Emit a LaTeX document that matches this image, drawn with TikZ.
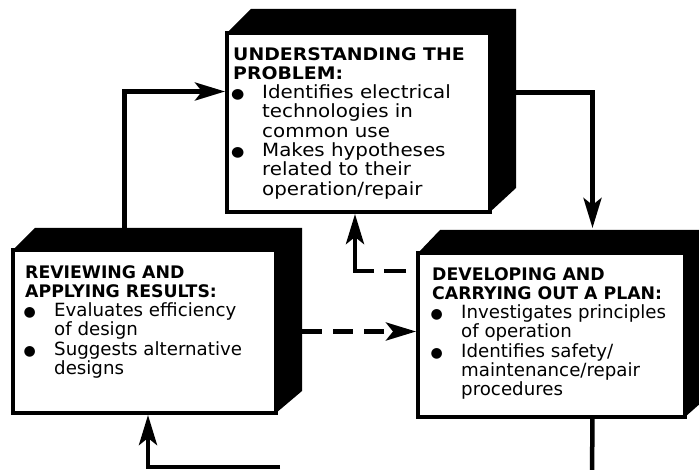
\documentclass[tikz,border=0pt]{standalone}
\usepackage{fontspec}
\setmainfont{DejaVu Sans}
\usetikzlibrary{arrows.meta}
\newcommand{\hd}[1]{{\fontsize{17.3}{19.3}\selectfont\bfseries #1}}
\newcommand{\bul}{\makebox[29pt][l]{\hspace{4.5pt}\makebox[0pt]{\fontsize{14}{19.3}\selectfont ●}}}
\newcommand{\ind}{\hspace*{29pt}}
\tikzset{
  panel/.style={draw, line width=4pt, fill=white, outer sep=0pt, inner sep=0pt, anchor=north west},
  blurb/.style={align=left, inner sep=0pt, anchor=north west, font=\fontsize{18.2}{19.3}\selectfont},
  wideblurb/.style={blurb, font=\fontsize{18.2}{19.3}\selectfont\addfontfeature{FakeStretch=1.09}},
  link/.style={line width=4.5pt, shorten >=2pt, -{Stealth[length=30pt,width=18pt,inset=7pt]}},
  dashlink/.style={link, dash pattern=on 20pt off 11pt}
}
\begin{document}
\begin{tikzpicture}[x=1pt, y=-1pt]
		\useasboundingbox (0,0) rectangle (699,470);
		% the three boxes
		\node[panel, minimum width=263pt, minimum height=179pt] (under) at (227,33) {};
		\fill (under.north west) -- ++(24,-24) -- ([shift={(26pt,24pt)}]under.north east) -- ([shift={(26pt,24pt)}]under.south east) -- (under.south east) -- (under.north east) -- cycle;
		\node[panel, minimum width=263pt, minimum height=163pt] (review) at (13,250) {};
		\fill (review.north west) -- ++(22,-22) -- ([shift={(26pt,22pt)}]review.north east) -- ([shift={(26pt,22pt)}]review.south east) -- (review.south east) -- (review.north east) -- cycle;
		\node[panel, minimum width=267pt, minimum height=164pt] (plan) at (418,253) {};
		\fill (plan.north west) -- ++(22,-23) -- ([shift={(26pt,23pt)}]plan.north east) -- ([shift={(26pt,23pt)}]plan.south east) -- (plan.south east) -- (plan.north east) -- cycle;
		%%%%%%%
		\node[wideblurb] (underText) at ([shift={(6pt,-14pt)}]under.north west) {\hd{UNDERSTANDING THE}\\ \hd{PROBLEM:}\\ \bul Identifies electrical\\ \ind technologies in\\ \ind common use\\ \bul Makes hypotheses\\ \ind related to their\\ \ind operation/repair};
		\node[blurb] (reviewText) at ([shift={(12pt,-15pt)}]review.north west) {\hd{REVIEWING AND}\\ \hd{APPLYING RESULTS:}\\ \bul Evaluates efficiency\\ \ind of design\\ \bul Suggests alternative\\ \ind designs};
		\node[blurb] (planText) at ([shift={(14pt,-14pt)}]plan.north west) {\hd{DEVELOPING AND}\\ \hd{CARRYING OUT A PLAN:}\\ \bul Investigates principles\\ \ind of operation\\ \bul Identifies safety/\\ \ind maintenance/repair\\ \ind procedures};
		%%%%%%%
		\coordinate (bottomL) at (280,467);
		\coordinate (bottomR) at (592,475);
		\draw[link] ([shift={(-20pt,22pt)}]review.north) |- ([yshift=31pt]under.west);
		\draw[link] ([shift={(26pt,30pt)}]under.east) -| ([shift={(41pt,23pt)}]plan.north);
		\draw[dashlink, dash pattern=on 22pt off 10pt on 80pt off 12pt, dash phase=112pt] (plan.west |- 0,271) -| ([xshift=-3.5pt]under.south);
		\draw[dashlink] ([xshift=26pt]review.east) -- (review.east -| plan.west);
		\draw[line width=4.5pt] ([xshift=41pt]plan.south) -- (bottomR);
		\draw[link] (bottomL) -| ([xshift=3.5pt]review.south);
\end{tikzpicture}
\end{document}
